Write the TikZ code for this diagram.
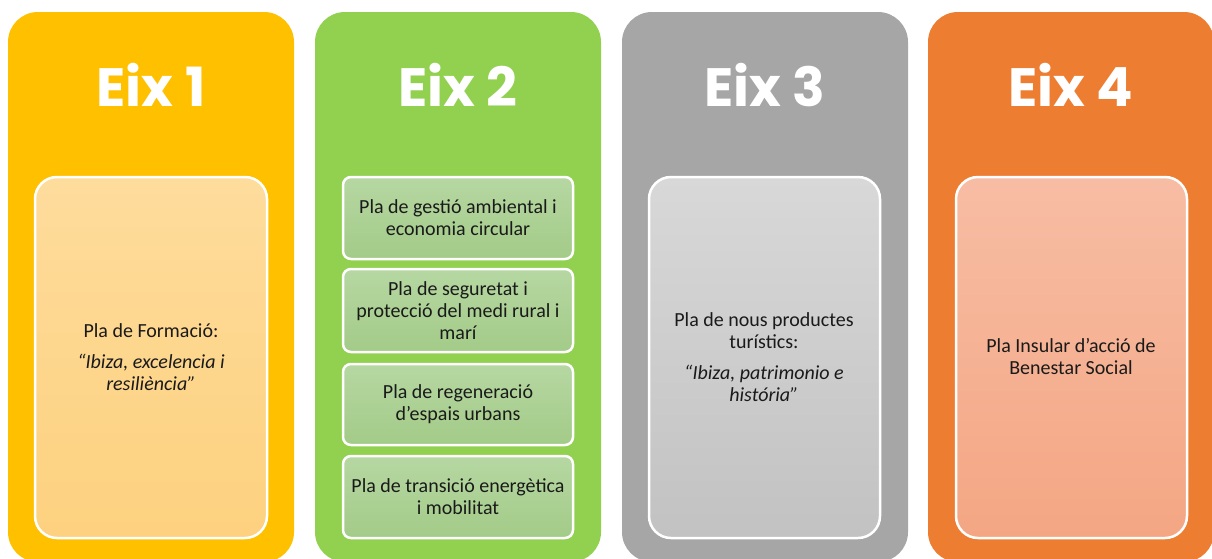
\documentclass[tikz,border=0pt]{standalone}
\usepackage{fontspec}
\setmainfont{Carlito}
\newfontfamily\titlefont{Poppins}[UprightFont=* Bold]
\definecolor{pone}{HTML}{FFC000}
\definecolor{ptwo}{HTML}{92D050}
\definecolor{pthree}{HTML}{A6A6A6}
\definecolor{pfour}{HTML}{ED7D31}
\definecolor{ionetop}{HTML}{FEDC9C}
\definecolor{ionebot}{HTML}{FDD17F}
\definecolor{itwotop}{HTML}{B6D7A2}
\definecolor{itwobot}{HTML}{A3CB88}
\definecolor{ithreetop}{HTML}{D8D8D8}
\definecolor{ithreebot}{HTML}{C2C2C2}
\definecolor{ifourtop}{HTML}{F7BDA4}
\definecolor{ifourbot}{HTML}{F4A683}
\definecolor{txt}{HTML}{1A1A1A}
\tikzset{
  panel/.style={rounded corners=30pt},
  inner/.style={draw=white, line width=2.5pt, rounded corners=22pt},
  subbox/.style={draw=white, line width=2.5pt, rounded corners=8pt, shade, top color=itwotop, bottom color=itwobot},
  title/.style={anchor=base, text=white, font=\titlefont\fontsize{54}{60}\selectfont, inner sep=0pt},
  body/.style={align=center, text=txt, font=\fontsize{20}{22}\selectfont, inner sep=0pt}
}
\begin{document}
\begin{tikzpicture}[x=1pt,y=-1pt]
\useasboundingbox (0,0) rectangle (1212,558);
\clip (0,0) rectangle (1212,558);
% panels
\fill[panel, pone] (8,12) rectangle (294,562);
\fill[panel, ptwo] (315,12) rectangle (601,562);
\fill[panel, pthree] (622,12) rectangle (908,562);
\fill[panel, pfour] (928,12) rectangle (1214,562);
% titles
\node[title] (t1) at (151,106) {Eix 1};
\node[title] (t2) at (458,106) {Eix 2};
\node[title] (t3) at (765,106) {Eix 3};
\node[title] (t4) at (1071,106) {Eix 4};
% inner boxes
\draw[inner, shade, top color=ionetop, bottom color=ionebot] (35,177) rectangle (267,538);
\draw[inner, shade, top color=ithreetop, bottom color=ithreebot] (649,177) rectangle (880,538);
\draw[inner, shade, top color=ifourtop, bottom color=ifourbot] (956,177) rectangle (1187,538);
\draw[subbox] (343,177) rectangle (573,259);
\draw[subbox] (343,269) rectangle (573,352);
\draw[subbox] (343,364) rectangle (573,445);
\draw[subbox] (343,456) rectangle (573,538);
% texts
\node[body] (b1) at (151,357) {Pla de Formació:\\[9pt]\itshape “Ibiza, excelencia i\\\itshape resiliència”};
\node[body] (s1) at (458,218) {Pla de gestió ambiental i\\economia circular};
\node[body] (s2) at (458,310.5) {Pla de seguretat i\\protecció del medi rural i\\marí};
\node[body] (s3) at (458,404.5) {Pla de regeneració\\d’espais urbans};
\node[body] (s4) at (458,497) {Pla de transició energètica\\i mobilitat};
\node[body] (b3) at (764,357) {Pla de nous productes\\turístics:\\[9pt]\itshape “Ibiza, patrimonio e\\\itshape história”};
\node[body] (b4) at (1071,357) {Pla Insular d’acció de\\Benestar Social};
\end{tikzpicture}
\end{document}
